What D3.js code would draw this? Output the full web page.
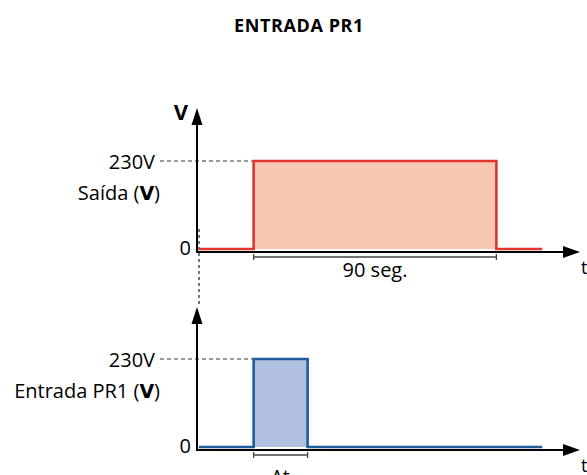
<!DOCTYPE html>
<html><head><meta charset="utf-8">
<script src="https://cdn.jsdelivr.net/npm/d3@7"></script>
<style>body{margin:0;background:#fff}svg{display:block}text{font-family:"Open Sans",sans-serif}</style>
</head><body><svg id="c" width="587" height="475"></svg>
<script>
const title = "ENTRADA PR1";
const levelLabels = ["0", "230V"];
const levels = [0, 230];
const outTimes = [0.7, 21, 21, 111, 111, 128];
const outValues = [0, 0, 230, 230, 0, 0];
const inTimes = [0.7, 21, 21, 41, 41, 128];
const inValues = [0, 0, 230, 230, 0, 0];
const outLabel = "Saída (";
const inLabel = "Entrada PR1 (";
const outSpan = [21, 111, "90 seg."];
const inSpan = [21, 41, "Δt"];

const svg = d3.select("#c");
const x = d3.scaleLinear().domain([0, 142]).range([197, 580]);
const panels = [
  {times: outTimes, values: outValues, y: d3.scaleLinear().domain([0,230]).range([249,161]),
   line: "#e3342f", fill: "#f6c7b1", label: outLabel, span: outSpan, arrowTip: 108, showV: true},
  {times: inTimes, values: inValues, y: d3.scaleLinear().domain([0,230]).range([447,359]),
   line: "#1c5d9e", fill: "#b1c0df", label: inLabel, span: inSpan, arrowTip: 307, showV: false}
];

svg.append("text").attr("x", 299).attr("y", 32).attr("text-anchor","middle")
  .attr("font-weight","bold").attr("font-size",18).attr("letter-spacing",0.6).text(title);

// connecting dashed line
svg.append("line").attr("x1",199).attr("x2",199).attr("y1",229).attr("y2",306)
  .attr("stroke","#777").attr("stroke-width",2).attr("stroke-dasharray","3,3");

panels.forEach(p => {
  const g = svg.append("g");
  const y = p.y;
  const ax = y(0) + 3;
  const pts = p.times.map((t,i)=>[t,p.values[i]]);
  g.append("path").datum(pts).attr("fill", p.fill)
    .attr("d", d3.area().x(d=>x(d[0])).y0(y(0)).y1(d=>y(d[1])));
  g.append("line").attr("x1",160).attr("x2",x(p.times[2])).attr("y1",y(230)).attr("y2",y(230))
    .attr("stroke","#333").attr("stroke-width",1).attr("stroke-dasharray","4,3");
  g.append("path").datum(pts).attr("fill","none").attr("stroke",p.line).attr("stroke-width",2.6)
    .attr("d", d3.line().x(d=>x(d[0])).y(d=>y(d[1])));
  g.append("line").attr("x1",x(0)).attr("x2",x(0)).attr("y1",p.arrowTip+6).attr("y2",ax+1)
    .attr("stroke","#000").attr("stroke-width",2);
  g.append("line").attr("x1",x(0)-1).attr("x2",x(136)).attr("y1",ax).attr("y2",ax)
    .attr("stroke","#000").attr("stroke-width",2);
  g.append("path").attr("fill","#000")
    .attr("d",`M${x(0)},${p.arrowTip} L${x(0)+5.5},${p.arrowTip+17} L${x(0)-5.5},${p.arrowTip+17}Z`);
  g.append("path").attr("fill","#000")
    .attr("d",`M${x(142)},${ax} L${x(142)-17},${ax-6} L${x(142)-17},${ax+6}Z`);
  g.append("text").attr("x",581).attr("y",ax+22).attr("font-size",18).text("t");
  levels.forEach((v,i)=>{
    g.append("text").attr("x", i===0 ? 191 : 155).attr("y", y(v)+ (i===0?6:8))
      .attr("text-anchor","end").attr("font-size",20).text(levelLabels[i]);
  });
  const lt = g.append("text").attr("x",160).attr("y",y(230)+39).attr("text-anchor","end").attr("font-size",20);
  lt.append("tspan").text(p.label);
  lt.append("tspan").attr("font-weight","bold").attr("font-family","DejaVu Sans").attr("font-size",19).text("V");
  lt.append("tspan").text(")");
  if (p.showV) {
    g.append("text").attr("x",181).attr("y",120).attr("text-anchor","middle")
      .attr("font-weight","bold").attr("font-family","DejaVu Sans").attr("font-size",22).text("V");
  }
  const sy = ax + 5;
  const s0 = x(p.span[0]), s1 = x(p.span[1]);
  g.append("path").attr("fill","none").attr("stroke","#444").attr("stroke-width",1.3)
    .attr("d",`M${s0},${sy-3}V${sy+3}M${s0},${sy}H${s1}M${s1},${sy-3}V${sy+3}`);
  g.append("text").attr("x",(s0+s1)/2).attr("y",sy+20 + (p.showV?0:9)).attr("text-anchor","middle")
    .attr("font-size",20).text(p.span[2]);
});
</script></body></html>
